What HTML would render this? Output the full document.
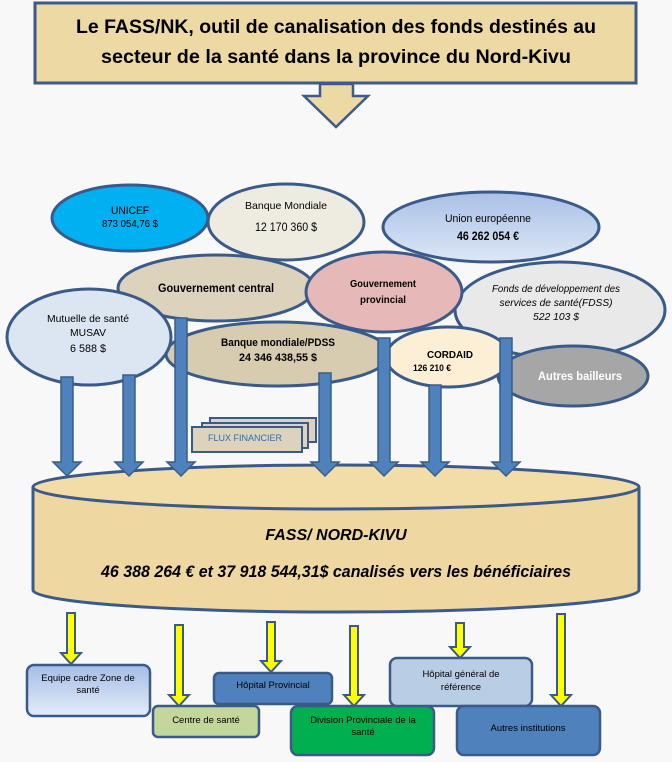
<!DOCTYPE html>
<html><head><meta charset="utf-8"><style>
html,body{margin:0;padding:0;background:#f8f8f8}
svg{display:block}
text{font-family:"Liberation Sans",sans-serif}
</style></head><body>
<svg width="672" height="762" viewBox="0 0 672 762" xmlns="http://www.w3.org/2000/svg">
<defs>
<linearGradient id="ue" x1="0" y1="0" x2="0" y2="1"><stop offset="0" stop-color="#a9c0e6"/><stop offset="1" stop-color="#dde7f6"/></linearGradient>
<linearGradient id="eq" x1="0" y1="0" x2="0" y2="1"><stop offset="0" stop-color="#a4bde6"/><stop offset="1" stop-color="#e4ecf8"/></linearGradient>
</defs>
<rect width="672" height="762" fill="#f8f8f8"/>
<rect x="35" y="3" width="601" height="80" fill="#ecd9a4" stroke="#3c5a8a" stroke-width="3"/>
<text x="336" y="33" font-size="19" font-weight="bold" text-anchor="middle" textLength="520" lengthAdjust="spacingAndGlyphs">Le FASS/NK, outil de canalisation des fonds destinés au</text>
<text x="336" y="63" font-size="19" font-weight="bold" text-anchor="middle" textLength="470" lengthAdjust="spacingAndGlyphs">secteur de la santé dans la province du Nord-Kivu</text>
<polygon points="320,84 353,84 353,96 368,96 336,127 304,96 320,96" fill="#ecd9a4" stroke="#3c5a8a" stroke-width="2.5"/>
<g stroke="#3a5a8a" stroke-width="3">
<ellipse cx="130" cy="218" rx="78" ry="33" fill="#00b0f0"/>
<ellipse cx="286" cy="222" rx="78" ry="38" fill="#eeece1"/>
<ellipse cx="491" cy="227" rx="108" ry="35" fill="url(#ue)"/>
<ellipse cx="560" cy="310" rx="105" ry="48" fill="#e9e9ea"/>
<ellipse cx="278" cy="354" rx="112" ry="32" fill="#d8ccb0"/>
<ellipse cx="216" cy="288" rx="98" ry="33" fill="#ddd3bd"/>
<ellipse cx="384" cy="292" rx="78" ry="40" fill="#e6b9b8"/>
<ellipse cx="89" cy="337" rx="82" ry="48" fill="#dce6f2"/>
<ellipse cx="573" cy="376" rx="75" ry="30" fill="#a6a6a6"/>
<ellipse cx="448" cy="357" rx="62" ry="30" fill="#fcefd6"/>
</g>
<g text-anchor="middle" font-size="11">
<text x="130" y="214" textLength="38" lengthAdjust="spacingAndGlyphs">UNICEF</text><text x="130" y="227" font-size="10" textLength="56" lengthAdjust="spacingAndGlyphs">873 054,76 $</text>
<text x="286" y="209" font-size="10.5" textLength="82" lengthAdjust="spacingAndGlyphs">Banque Mondiale</text><text x="286" y="231" font-size="11.5" textLength="62" lengthAdjust="spacingAndGlyphs">12 170 360 $</text>
<text x="488" y="222" font-size="11" textLength="86" lengthAdjust="spacingAndGlyphs">Union européenne</text><text x="488" y="240" font-weight="bold" font-size="12" textLength="62" lengthAdjust="spacingAndGlyphs">46 262 054 €</text>
<text x="556" y="292" font-style="italic" font-size="10.5" textLength="128" lengthAdjust="spacingAndGlyphs">Fonds de développement des</text>
<text x="556" y="306" font-style="italic" font-size="10.5" textLength="113" lengthAdjust="spacingAndGlyphs">services de santé(FDSS)</text>
<text x="556" y="320" font-style="italic" font-size="10.5" textLength="46" lengthAdjust="spacingAndGlyphs">522 103 $</text>
<text x="216" y="292" font-weight="bold" font-size="11.5" textLength="116" lengthAdjust="spacingAndGlyphs">Gouvernement central</text>
<text x="383" y="287" font-weight="bold" font-size="10" textLength="66" lengthAdjust="spacingAndGlyphs">Gouvernement</text><text x="383" y="303" font-weight="bold" font-size="10" textLength="46" lengthAdjust="spacingAndGlyphs">provincial</text>
<text x="88" y="322" font-size="10.5" textLength="82" lengthAdjust="spacingAndGlyphs">Mutuelle de santé</text><text x="88" y="336" font-size="10.5" textLength="36" lengthAdjust="spacingAndGlyphs">MUSAV</text><text x="88" y="352" font-size="11" textLength="36" lengthAdjust="spacingAndGlyphs">6 588 $</text>
<text x="278" y="346" font-weight="bold" font-size="11" textLength="114" lengthAdjust="spacingAndGlyphs">Banque mondiale/PDSS</text><text x="278" y="361" font-weight="bold" font-size="11" textLength="78" lengthAdjust="spacingAndGlyphs">24 346 438,55 $</text>
<text x="450" y="358" font-weight="bold" font-size="10" textLength="46" lengthAdjust="spacingAndGlyphs">CORDAID</text><text x="413" y="371" font-weight="bold" font-size="9" text-anchor="start" textLength="38" lengthAdjust="spacingAndGlyphs">126 210 €</text>
<text x="580" y="380" font-weight="bold" font-size="12" fill="#fff" textLength="84" lengthAdjust="spacingAndGlyphs">Autres bailleurs</text>
</g>
<g stroke="#3a5a8a" stroke-width="2" fill="#ddd3bd">
<rect x="210" y="418" width="106" height="24"/>
<rect x="202" y="423" width="106" height="25"/>
<rect x="192" y="427" width="110" height="25"/>
</g>
<text x="245" y="441" font-size="9" fill="#2e6db4" text-anchor="middle">FLUX FINANCIER</text>
<!-- cylinder -->
<path d="M33,487 L33,590 A303,22 0 0 0 639,590 L639,487" fill="#efd7a2" stroke="#3a5a8a" stroke-width="3"/>
<ellipse cx="336" cy="487" rx="303" ry="22" fill="#f2dca8" stroke="#3a5a8a" stroke-width="3"/>
<text x="336" y="540" font-size="16" font-weight="bold" font-style="italic" text-anchor="middle">FASS/ NORD-KIVU</text>
<text x="336" y="577" font-size="17" font-weight="bold" font-style="italic" text-anchor="middle" textLength="470" lengthAdjust="spacingAndGlyphs">46 388 264 € et 37 918 544,31$ canalisés vers les bénéficiaires</text>
<!-- blue arrows -->
<g fill="#4f81bd" stroke="#385d8a" stroke-width="1.5">
<polygon points="61,377 73,377 73,462 81,462 67,476 53,462 61,462"/>
<polygon points="123,375 135,375 135,462 143,462 129,476 115,462 123,462"/>
<polygon points="175,318 187,318 187,462 195,462 181,476 167,462 175,462"/>
<polygon points="319,373 331,373 331,462 339,462 325,476 311,462 319,462"/>
<polygon points="378,338 390,338 390,462 398,462 384,476 370,462 378,462"/>
<polygon points="429,385 441,385 441,462 449,462 435,476 421,462 429,462"/>
<polygon points="500,338 512,338 512,462 520,462 506,476 492,462 500,462"/>
</g>
<!-- yellow arrows -->
<g fill="#ffff00" stroke="#3a5a8a" stroke-width="2">
<polygon points="67,613 75,613 75,653 81,653 71,664 61,653 67,653"/>
<polygon points="175,625 183,625 183,695 189,695 179,706 169,695 175,695"/>
<polygon points="267,622 275,622 275,661 281,661 271,672 261,661 267,661"/>
<polygon points="350,626 358,626 358,695 364,695 354,706 344,695 350,695"/>
<polygon points="456,623 464,623 464,647 470,647 460,658 450,647 456,647"/>
<polygon points="557,614 565,614 565,695 571,695 561,706 551,695 557,695"/>
</g>
<g stroke="#3a5a8a" stroke-width="2.5">
<rect x="27" y="665" width="123" height="51" rx="7" fill="url(#eq)"/>
<rect x="153" y="706" width="106" height="31" rx="5" fill="#c3d69b"/>
<rect x="214" y="673" width="118" height="31" rx="5" fill="#4f81bd"/>
<rect x="291" y="706" width="143" height="49" rx="7" fill="#00b050"/>
<rect x="390" y="658" width="142" height="48" rx="7" fill="#b9cde5"/>
<rect x="457" y="706" width="143" height="49" rx="7" fill="#4f81bd"/>
</g>
<g font-size="9.5" text-anchor="middle">
<text x="88" y="681">Equipe cadre Zone de</text><text x="88" y="693">santé</text>
<text x="206" y="723">Centre de santé</text>
<text x="273" y="688">Hôpital Provincial</text>
<text x="363" y="723">Division Provinciale de la</text><text x="363" y="735">santé</text>
<text x="461" y="677">Hôpital général de</text><text x="461" y="690">référence</text>
<text x="528" y="731">Autres institutions</text>
</g>
</svg>
</body></html>
